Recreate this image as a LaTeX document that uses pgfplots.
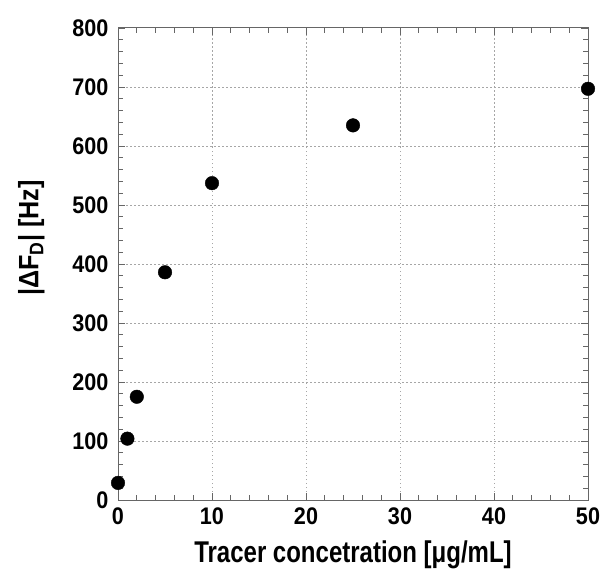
\documentclass[border=0pt]{standalone}
\usepackage{fontspec}
\setmainfont{Liberation Sans}[FakeStretch=0.8]
\newfontfamily\tickfont{Liberation Sans}[FakeStretch=0.9]
\usepackage{pgfplots}
\pgfplotsset{compat=1.18}
\begin{document}
\begin{tikzpicture}
\begin{axis}[
  scale only axis,
  width=470pt, height=472pt,
  xmin=0, xmax=50, ymin=0, ymax=800,
  xtick={0,10,...,50}, ytick={0,100,...,800},
  minor x tick num=4, minor y tick num=4,
  tick align=inside,
  major tick length=7pt, minor tick length=5pt,
  tick style={gray!80!black, line width=0.8pt},
  axis line style={gray!80!black, line width=1pt},
  grid=major,
  major grid style={gray!70, dash pattern=on 1.5pt off 2.5pt, line width=1pt},
  /pgf/number format/assume math mode=true,
  ticklabel style={font=\tickfont\fontsize{24}{26}\selectfont\bfseries},
  yticklabel style={xshift=-6pt},
  xticklabel style={yshift=-4pt},
  xlabel style={font=\fontsize{30}{32}\selectfont\bfseries, yshift=-9pt},
  ylabel style={font=\tickfont\fontsize{28}{30}\selectfont\bfseries, at={(ticklabel cs:0.555)}, yshift=21pt},
  xlabel={Tracer concetration [μg/mL]},
  ylabel={|ΔF\textsubscript{D}| [Hz]},
]
\addplot[only marks, mark=*, mark size=6.8pt, black] coordinates {
  (0,29) (1,104) (2,175) (5,386) (10,537) (25,635) (50,697)
};
\end{axis}
\pgfresetboundingbox
\useasboundingbox ([shift={(-118pt,-73pt)}]current axis.south west) rectangle ([shift={(14pt,28pt)}]current axis.north east);
\end{tikzpicture}
\end{document}
